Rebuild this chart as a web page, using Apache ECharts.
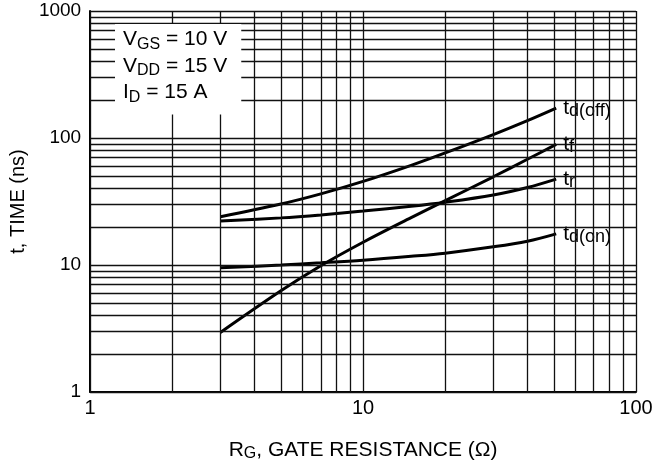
<!DOCTYPE html>
<html>
<head>
<meta charset="utf-8">
<script src="https://cdn.jsdelivr.net/npm/echarts@6/dist/echarts.min.js"></script>
<style>html,body{margin:0;background:#fff}#chart{width:661px;height:467px}</style>
</head>
<body>
<div id="chart"></div>
<script>
// gate resistance sample points (ohm)
var rg = [3, 5, 7, 10, 15, 20, 30, 40, 51];
// switching times (ns)
var tdOff = [24, 30.2, 36.3, 45.5, 60.9, 76.3, 106.4, 137, 172];
var tf = [2.94, 6.26, 9.86, 15.1, 23.6, 32.1, 49.5, 68, 89];
var tr = [22.2, 23.5, 24.8, 26.6, 29, 31.2, 35.6, 40.8, 47.5];
var tdOn = [9.5, 10.0, 10.4, 10.9, 11.7, 12.4, 13.9, 15.4, 17.6];
// log grid lines
var xGrid = [1, 2, 3, 4, 5, 6, 7, 8, 9, 10, 20, 30, 40, 50, 60, 70, 80, 90, 100];
var yGrid = [1, 2, 3, 4, 5, 6, 7, 8, 9, 10, 20, 30, 40, 50, 60, 70, 80, 90,
             100, 200, 300, 400, 500, 600, 700, 800, 900, 1000];

var font = 'Liberation Sans, Arial, sans-serif';

var labelRich = {
    m: {fontSize: 21, lineHeight: 24, color: '#000', fontFamily: font},
    s: {fontSize: 18, lineHeight: 13, color: '#000', fontFamily: font, verticalAlign: 'bottom'}
};

function curve(name, ys, sub) {
    return {
        name: name,
        type: 'line',
        z: 3,
        smooth: 0.35,
        symbol: 'none',
        animation: false,
        data: rg.map(function (x, i) { return [x, ys[i]]; }),
        lineStyle: {color: '#000', width: 3},
        endLabel: {
            show: true,
            formatter: '{m|t}{s|' + sub + '}',
            backgroundColor: '#fff',
            padding: [5, 3, 5, 3],
            distance: 4,
            rich: labelRich
        }
    };
}

var chart = echarts.init(document.getElementById('chart'));
chart.setOption({
    animation: false,
    grid: {left: 89, right: 25, top: 11, bottom: 74},
    xAxis: {
        type: 'log', logBase: 10, min: 1, max: 100,
        name: '{m|R}{s|G}{m|, GATE RESISTANCE (Ω)}',
        nameLocation: 'middle', nameGap: 46,
        nameTextStyle: {
            rich: {
                m: {fontSize: 21, lineHeight: 24, color: '#000', fontFamily: font},
                s: {fontSize: 16, lineHeight: 12, color: '#000', fontFamily: font, verticalAlign: 'bottom'}
            }
        },
        axisLine: {lineStyle: {color: '#000', width: 2}},
        axisTick: {show: false},
        splitLine: {show: false},
        axisLabel: {color: '#000', fontSize: 20, fontFamily: font, margin: 6,
            formatter: function (v) { return String(v); }}
    },
    yAxis: {
        type: 'log', logBase: 10, min: 1, max: 1000,
        name: 't, TIME (ns)',
        nameLocation: 'middle', nameGap: 60,
        nameTextStyle: {color: '#000', fontSize: 20, fontFamily: font},
        axisLine: {show: true, lineStyle: {color: '#000', width: 2}},
        axisTick: {show: false},
        splitLine: {show: false},
        axisLabel: {color: '#000', fontSize: 19, fontFamily: font, margin: 9,
            formatter: function (v) { return String(v); }}
    },
    graphic: [{
        type: 'text',
        left: 115, top: 24, z: 10,
        style: {
            text: '{m|V}{s|GS}{m| = 10 V}\n{m|V}{s|DD}{m| = 15 V}\n{m|I}{s|D}{m| = 15 A}',
            backgroundColor: '#fff',
            padding: [2, 14, 9, 8],
            rich: {
                m: {fontSize: 21, lineHeight: 26.5, fill: '#000', fontFamily: font},
                s: {fontSize: 16, lineHeight: 13, fill: '#000', fontFamily: font, verticalAlign: 'bottom'}
            }
        }
    }],
    series: [
        {
            type: 'line',
            data: [],
            z: 1,
            silent: true,
            markLine: {
                silent: true,
                symbol: 'none',
                animation: false,
                label: {show: false},
                lineStyle: {color: '#111', width: 1.3, type: 'solid'},
                emphasis: {disabled: true},
                data: xGrid.map(function (v) { return {xAxis: v}; })
                    .concat(yGrid.map(function (v) { return {yAxis: v}; }))
            }
        },
        curve('td(off)', tdOff, 'd(off)'),
        curve('tf', tf, 'f'),
        curve('tr', tr, 'r'),
        curve('td(on)', tdOn, 'd(on)')
    ]
});
</script>
</body>
</html>
